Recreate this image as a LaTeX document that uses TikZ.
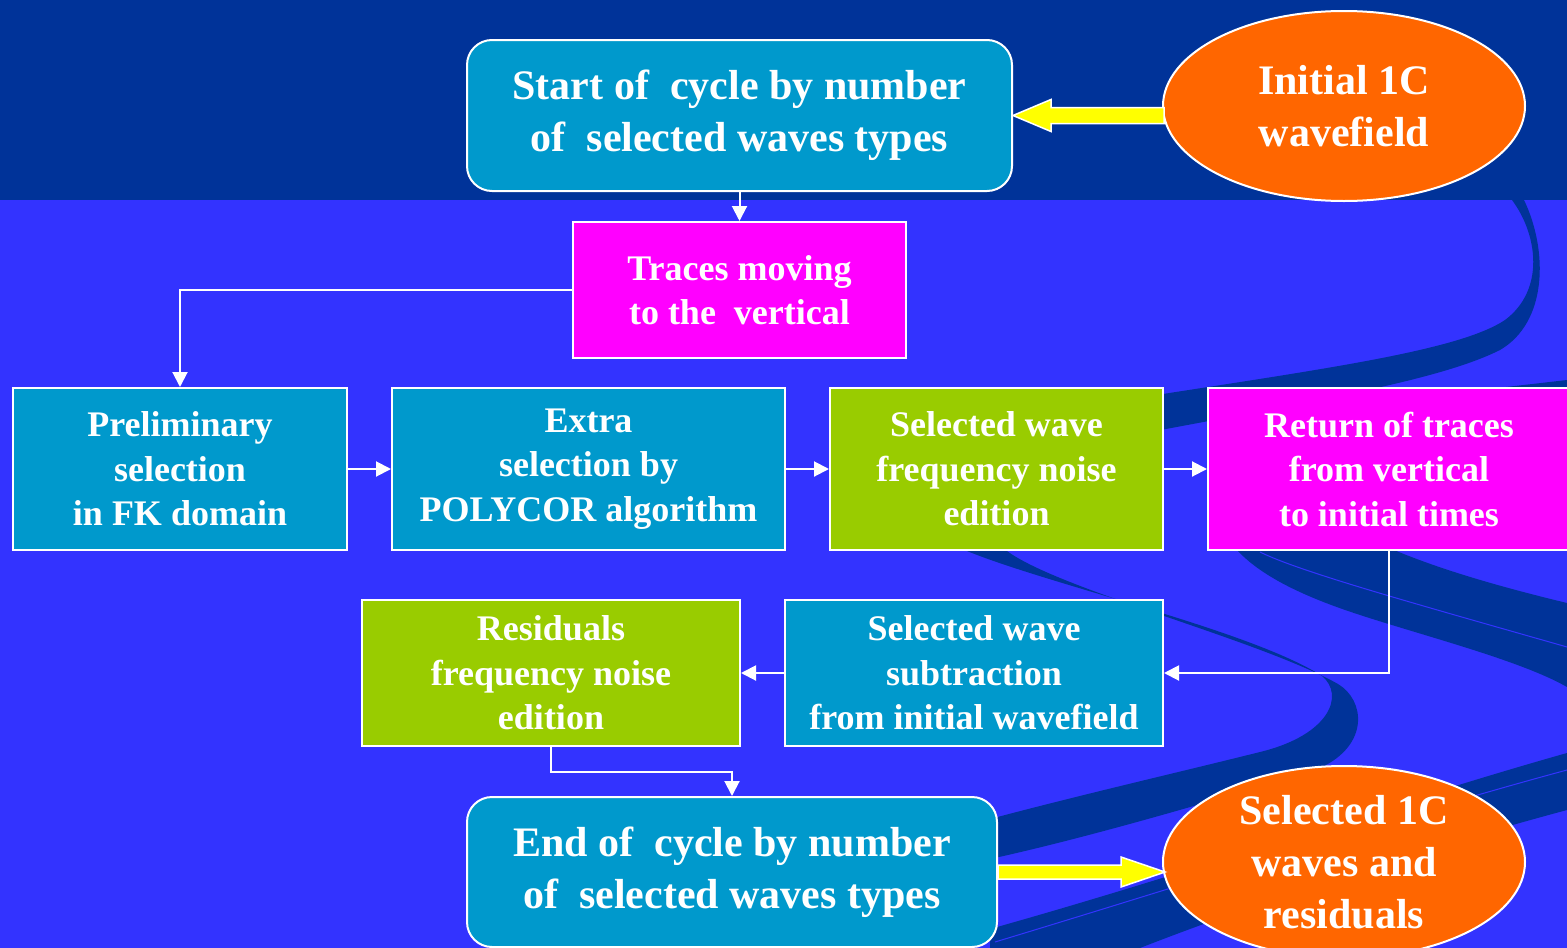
\documentclass[tikz,border=0pt]{standalone}
\usepackage{fontspec}
\setmainfont{Liberation Serif}
\usepackage{tikz}
\usetikzlibrary{shapes.geometric, arrows.meta}
\definecolor{TopBlue}{HTML}{003399}
\definecolor{BackBlue}{HTML}{3333FF}
\definecolor{BoxCyan}{HTML}{0099CC}
\definecolor{BoxPink}{HTML}{FF00FF}
\definecolor{BoxGreen}{HTML}{99CC00}
\definecolor{BoxOrange}{HTML}{FF6600}
\definecolor{FeedYellow}{HTML}{FFFF00}
\tikzset{BoxStyle/.style = {
			shape          = rectangle,
			draw           = white,
			line width     = 2pt,
			text           = white,
			align          = center,
			inner sep      = 0pt,
			font           = \fontsize{36}{44.5}\selectfont\bfseries}
			}
\tikzset{CycleStyle/.style = {
			BoxStyle,
			fill           = BoxCyan,
			rounded corners = 25pt,
			font           = \fontsize{42}{52}\selectfont\bfseries}
			}
\tikzset{WaveStyle/.style = {
			shape          = ellipse,
			draw           = white,
			line width     = 2pt,
			fill           = BoxOrange,
			text           = white,
			align          = center,
			inner sep      = 0pt,
			minimum width  = 362pt,
			font           = \fontsize{42}{52}\selectfont\bfseries}
			}
\tikzset{EdgeStyle/.style   = {white, line width=2pt, -{Triangle[length=15pt,width=15pt]}}}
\tikzset{FeedStyle/.style   = {fill=FeedYellow, draw=white, line width=1.5pt, line join=miter}}
\tikzset{SwooshStyle/.style = {fill=TopBlue}}

\begin{document}
\begin{tikzpicture}[x=1pt,y=-1pt]
	\useasboundingbox (0,0) rectangle (1567,948);
	\fill[TopBlue] (0,0) rectangle (1567,200);
	\fill[BackBlue] (0,200) rectangle (1567,948);

	\fill[SwooshStyle] (1512,200) .. controls (1538,235) and (1545,290) .. (1505,320)
		.. controls (1460,350) and (1330,368) .. (1150,396) -- (1150,432)
		.. controls (1320,400) and (1440,380) .. (1500,350)
		.. controls (1548,322) and (1548,250) .. (1524,200) -- cycle;
	\fill[SwooshStyle] (1480,390) -- (1567,380) -- (1567,392) -- cycle;
	\fill[SwooshStyle] (1394,550) .. controls (1430,565) and (1480,582) .. (1567,603) -- (1567,687)
		.. controls (1520,660) and (1420,635) .. (1354,613)
		.. controls (1300,595) and (1260,575) .. (1237,550) -- cycle;
	\draw[BackBlue, line width=1pt] (1260,552) .. controls (1300,572) and (1420,605) .. (1567,647);
	\fill[SwooshStyle] (967,551) .. controls (1050,585) and (1250,630) .. (1322,676)
		.. controls (1345,695) and (1330,735) .. (1260,752)
		.. controls (1180,772) and (1080,795) .. (990,819) -- (990,859)
		.. controls (1100,835) and (1250,790) .. (1320,768)
		.. controls (1370,745) and (1365,700) .. (1338,684)
		.. controls (1260,640) and (1060,590) .. (1007,551) -- cycle;
	\fill[SwooshStyle] (990,929) .. controls (1200,870) and (1400,800) .. (1567,753) -- (1567,810)
		.. controls (1400,855) and (1250,905) .. (1140,948) -- (990,948) -- cycle;
	\draw[BackBlue, line width=1pt] (995,942) .. controls (1200,880) and (1400,815) .. (1567,770);

	\draw (739.5,115.5) node[CycleStyle, minimum width=545pt, minimum height=151pt] (start) {Start of~ cycle by number\\of~ selected waves types};
	\draw (1344,106) node[WaveStyle, minimum height=190pt] (init) {Initial 1C\\wavefield};
	\draw (739.5,290) node[BoxStyle, fill=BoxPink, minimum width=333pt, minimum height=136pt] (traces) {Traces moving\\to the~ vertical};
	\draw (180,469) node[BoxStyle, fill=BoxCyan, minimum width=334pt, minimum height=162pt] (prelim) {Preliminary\\selection\\in FK domain};
	\draw (588.5,469) node[BoxStyle, fill=BoxCyan, minimum width=393pt, minimum height=162pt] (extra) {Extra\\selection by\\POLYCOR algorithm};
	\draw (996.5,469) node[BoxStyle, fill=BoxGreen, minimum width=333pt, minimum height=162pt] (selw) {Selected wave\\frequency noise\\edition};
	\draw (1389,469) node[BoxStyle, fill=BoxPink, minimum width=362pt, minimum height=162pt] (ret) {Return of traces\\from vertical\\to initial times};
	\draw (974,673) node[BoxStyle, fill=BoxCyan, minimum width=378pt, minimum height=146pt] (subtr) {Selected wave\\subtraction\\from initial wavefield};
	\draw (551,673) node[BoxStyle, fill=BoxGreen, minimum width=378pt, minimum height=146pt] (resid) {Residuals\\frequency noise\\edition};
	\draw (732,872) node[CycleStyle, minimum width=530pt, minimum height=150pt] (endb) {End of~ cycle by number\\of~ selected waves types};
	\draw (1344,862) node[WaveStyle, minimum height=192pt] (sel1c) {Selected 1C\\waves and\\residuals};

	\draw[FeedStyle] (start.east) -- ++(38,-16) -- ++(0,8) -- ++(113,0) -- ++(0,16) -- ++(-113,0) -- ++(0,8) -- cycle;
	\draw[FeedStyle] (endb.east) ++(0,-7) -- ++(123,0) -- ++(0,-8) -- ++(44,15) -- ++(-44,15) -- ++(0,-8) -- ++(-123,0) -- cycle;

	\draw[EdgeStyle] (start) to (traces);
	\draw[EdgeStyle] (traces.west) -| (prelim.north);
	\draw[EdgeStyle] (prelim) to (extra);
	\draw[EdgeStyle] (extra) to (selw);
	\draw[EdgeStyle] (selw) to (ret);
	\draw[EdgeStyle] (ret.south) |- (subtr.east);
	\draw[EdgeStyle] (subtr) to (resid);
	\draw[EdgeStyle] (resid.south) -- ++(0,25) -| (endb.north);
\end{tikzpicture}
\end{document}
